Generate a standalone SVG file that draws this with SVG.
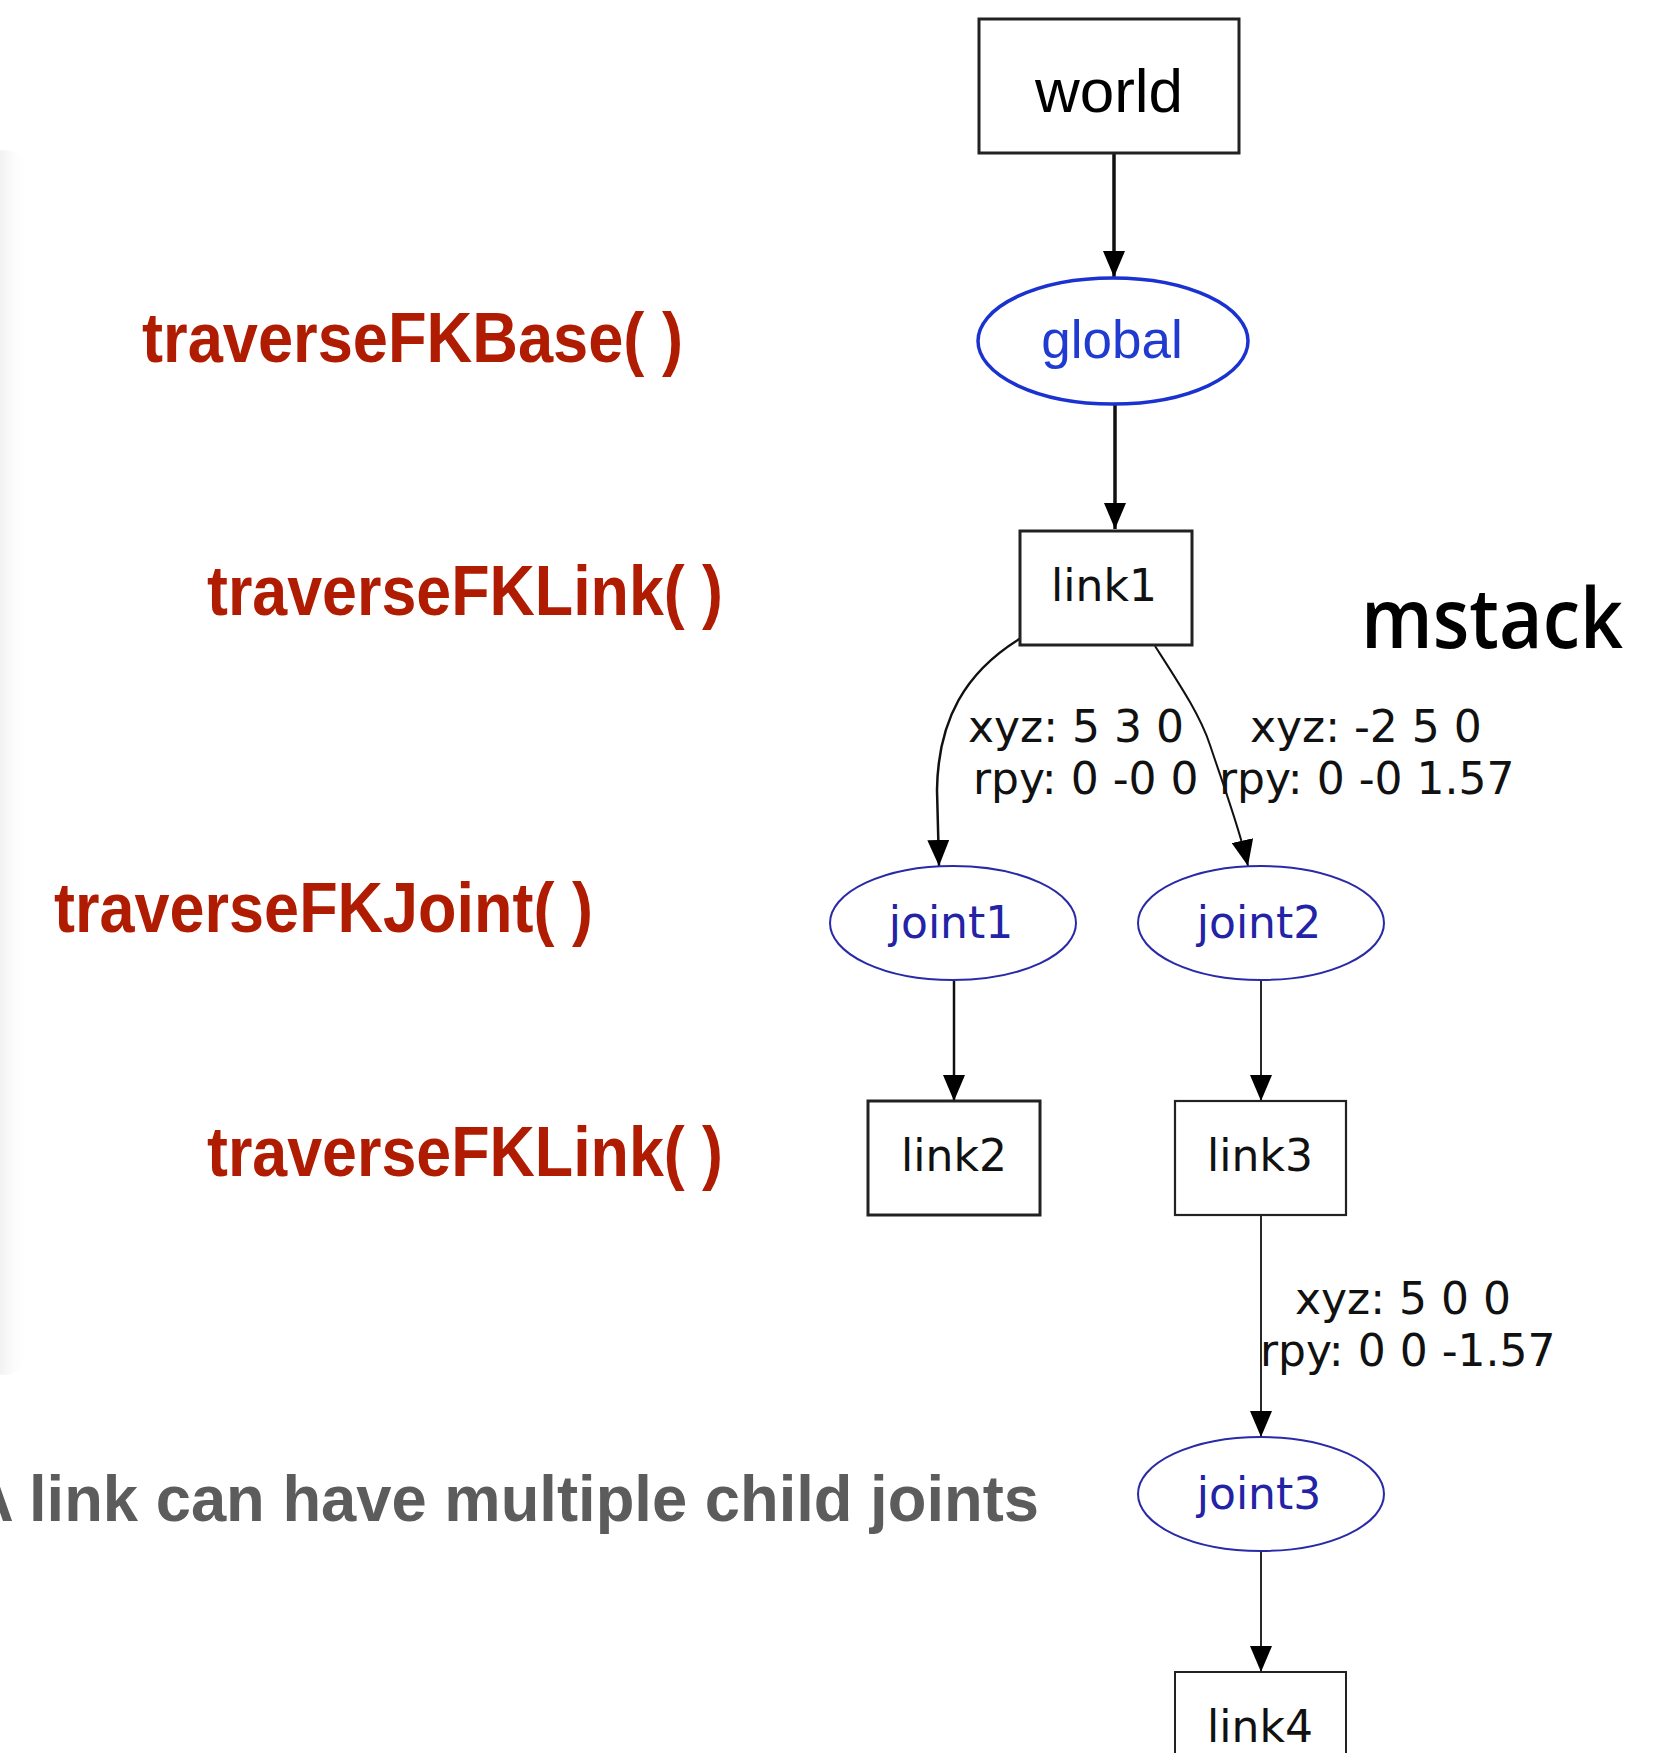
<svg xmlns="http://www.w3.org/2000/svg" width="1676" height="1753" viewBox="0 0 1676 1753">
<style>
.red{font-family:"Liberation Sans",Arial,sans-serif;font-weight:bold;font-size:70px;fill:#b01c02}
.gray{font-family:"Liberation Sans",Arial,sans-serif;font-weight:bold;font-size:64px;fill:#5c5c5c}
.gv{font-family:"DejaVu Sans",sans-serif;font-size:44px;fill:#111}
.jt{font-family:"DejaVu Sans",sans-serif;font-size:44px;fill:#2323a6;text-anchor:middle}
.lt{font-family:"DejaVu Sans",sans-serif;font-size:44px;fill:#111;text-anchor:middle}
.box{fill:#fff;stroke:#222}
.joint{fill:#fff;stroke:#2a2aa8;stroke-width:2}
.edge{fill:none;stroke:#111}
</style>
<defs>
<marker id="ah" markerUnits="userSpaceOnUse" markerWidth="26" markerHeight="22" refX="26" refY="11" orient="auto">
<path d="M0,0 L26,11 L0,22 z" fill="#000"/>
</marker>
<linearGradient id="shadow" x1="0" y1="0" x2="1" y2="0">
<stop offset="0" stop-color="#d8d8d8"/>
<stop offset="1" stop-color="#ffffff" stop-opacity="0"/>
</linearGradient>
</defs>
<rect width="1676" height="1753" fill="#fff"/>
<rect x="-20" y="150" width="48" height="1225" rx="24" fill="url(#shadow)"/>

<g id="labels">
<text class="red" x="142" y="362" textLength="541" lengthAdjust="spacingAndGlyphs">traverseFKBase( )</text>
<text class="red" x="207" y="615" textLength="516" lengthAdjust="spacingAndGlyphs">traverseFKLink( )</text>
<text class="red" x="54" y="932" textLength="539" lengthAdjust="spacingAndGlyphs">traverseFKJoint( )</text>
<text class="red" x="207" y="1176" textLength="516" lengthAdjust="spacingAndGlyphs">traverseFKLink( )</text>
<text class="gray" x="-32" y="1521" textLength="1071" lengthAdjust="spacingAndGlyphs">A link can have multiple child joints</text>
<text x="1361" y="648" font-family="'Open Sans','DejaVu Sans',sans-serif" font-weight="600" font-size="84" fill="#000" textLength="262" lengthAdjust="spacingAndGlyphs">mstack</text>
</g>

<g id="connectors">
<line class="edge" x1="1114" y1="153" x2="1114" y2="277" stroke-width="3.5" marker-end="url(#ah)"/>
<line class="edge" x1="1115" y1="404" x2="1115" y2="529" stroke-width="3.5" marker-end="url(#ah)"/>
<path class="edge" d="M1021,638 C965,672 938,720 937,790 L939,866" stroke-width="2.5" marker-end="url(#ah)"/>
<path class="edge" d="M1155,646 C1180,685 1200,715 1210,745 C1225,790 1240,830 1248,866" stroke-width="2" marker-end="url(#ah)"/>
<line class="edge" x1="954" y1="981" x2="954" y2="1101" stroke-width="2.5" marker-end="url(#ah)"/>
<line class="edge" x1="1261" y1="981" x2="1261" y2="1101" stroke-width="1.8" marker-end="url(#ah)"/>
<line class="edge" x1="1261" y1="1215" x2="1261" y2="1437" stroke-width="1.8" marker-end="url(#ah)"/>
<line class="edge" x1="1261" y1="1552" x2="1261" y2="1672" stroke-width="1.8" marker-end="url(#ah)"/>
<text class="gv" x="968" y="742">xyz: 5 3 0</text>
<text class="gv" x="973" y="794">rpy: 0 -0 0</text>
<text class="gv" x="1250" y="742">xyz: -2 5 0</text>
<text class="gv" x="1219" y="794">rpy: 0 -0 1.57</text>
<text class="gv" x="1295" y="1314">xyz: 5 0 0</text>
<text class="gv" x="1260" y="1366">rpy: 0 0 -1.57</text>
</g>

<g id="world">
<rect class="box" x="979" y="19" width="260" height="134" stroke-width="3" stroke="#444"/>
<text x="1109" y="112" font-family="'Liberation Sans',Arial,sans-serif" font-size="62" fill="#000" text-anchor="middle">world</text>
</g>
<g id="global">
<ellipse cx="1113" cy="341" rx="135" ry="63" fill="#fff" stroke="#1a32d0" stroke-width="3.5"/>
<text x="1112" y="358" font-family="'Liberation Sans',Arial,sans-serif" font-size="53" fill="#1f3bd0" text-anchor="middle">global</text>
</g>
<g id="link1">
<rect class="box" x="1020" y="531" width="172" height="114" stroke-width="3"/>
<text class="lt" x="1104" y="601">link1</text>
</g>
<g id="joint1">
<ellipse class="joint" cx="953" cy="923" rx="123" ry="57"/>
<text class="jt" x="951" y="938">joint1</text>
</g>
<g id="joint2">
<ellipse class="joint" cx="1261" cy="923" rx="123" ry="57"/>
<text class="jt" x="1259" y="938">joint2</text>
</g>
<g id="link2">
<rect class="box" x="868" y="1101" width="172" height="114" stroke-width="3"/>
<text class="lt" x="954" y="1171">link2</text>
</g>
<g id="link3">
<rect class="box" x="1175" y="1101" width="171" height="114" stroke-width="2.2"/>
<text class="lt" x="1260" y="1171">link3</text>
</g>
<g id="joint3">
<ellipse class="joint" cx="1261" cy="1494" rx="123" ry="57"/>
<text class="jt" x="1259" y="1509">joint3</text>
</g>
<g id="link4">
<rect class="box" x="1175" y="1672" width="171" height="100" stroke-width="2"/>
<text class="lt" x="1260" y="1742">link4</text>
</g>
</svg>
